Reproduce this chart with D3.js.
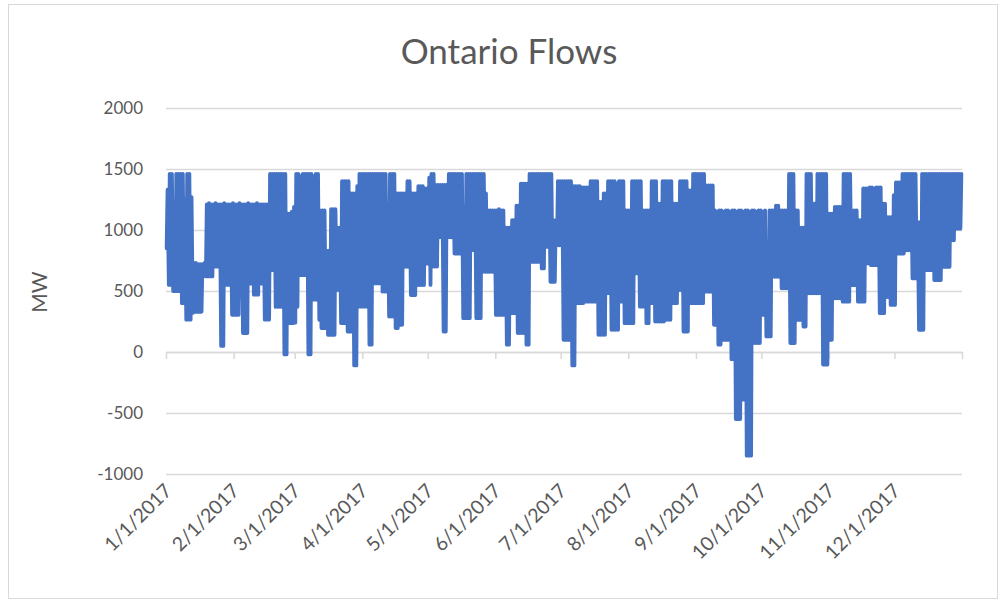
<!DOCTYPE html>
<html>
<head>
<meta charset="utf-8">
<script src="https://cdn.jsdelivr.net/npm/d3@7"></script>
<style>
  html, body { margin: 0; padding: 0; background: #fff; }
  svg { display: block; }
  text { font-family: Lato, "Open Sans", sans-serif; fill: #595959; }
</style>
</head>
<body>
<svg id="chart" width="1002" height="605"></svg>
<script>
// Daily extremes of the Ontario interchange flow (MW), one entry per day of 2017.
const dailyHigh = [
  // Jan
  1330,1460,1460,1230,1460,1460,1460,1460,1250,1460, 1460,1270,730,730,720,720,720,730,1210,1220,
  1210,1210,1220,1210,1210,1210,1220,1210,1210,1210, 1220,
  // Feb
  1210,1210,1220,1210,1210,1210,1220,1210,1210,1210, 1220,1210,1210,1210,1210,1210,
  1460,1460,1460,1460,1460,1460,1460,1460, 1135,1135,1150,1190,
  // Mar
  1460,1460,1440,1460,1460,1460,1460,1460,1440,1460,1460, 1160,1160,1160, 830,830, 1170,1170,1170,
  1020,1020, 1400,1400,1400,1400, 1300,1300,1300, 1360,1460,1460,
  // Apr
  1460,1460,1460,1460,1460,1460,1460,1460,1460,1460,1460, 1215, 1460,1460,1460,
  1300,1300,1300,1300,1300, 1400,1400, 1300,1300,1300, 1360,1360,1360, 1340,1340,
  // May
  1430,1460,1460, 1370,1370,1370,1370,1370,1370, 1460,1460,1460,1460,1460,1460,1460, 1190,
  1460,1460,1460,1460,1460,1460,1460,1460,1460, 1300, 1160,1160,1160,1160,
  // Jun
  1160,1170,1160,1160, 1020,1020,1020, 1080,1080, 1200,1200, 1380,1380,1380,1380,
  1460,1460,1460,1460,1460,1460,1460,1460,1460,1460,1460, 1080,1080, 1400,1400,
  // Jul
  1400,1400,1400,1400,1400, 1360,1360,1360,1360, 1350,1350,1350,1350, 1400,1400,1400,1400,
  1230,1230, 1300,1300, 1400,1400,1400,1400,1380,1400,1400,1400, 1160,1160,
  // Aug
  1160, 1400,1400,1400,1400,1400, 1160,1160,1160,1160, 1400,1400,1400, 1215,1215,
  1400,1400,1400,1400,1400, 1215,1215,1215, 1400,1400,1400,1400, 1325,1325, 1460,1460,
  // Sep
  1460,1460,1460,1460, 1365,1365,1365,1365,
  1160,1150,1160,1160,1150,1160,1160,1150,1160,1160,1150,1160,1160,1150,1160,1160,1150,1160,1160,1150,1160,1160,
  // Oct
  1150,1160, 620, 1160,1160,1160, 1200,1200, 1160,1160,1160,1160, 1460,1460,1460, 1160,1160,
  1020,1020,1020, 1460,1460,1460, 1215,1215, 1460,1460,1460,1460,1460, 1135,
  // Nov
  1135,1135, 1190,1190,1190,1190, 1460,1460,1460,1460, 1160,1160,1160, 1080,1080, 1340,1340,1340,
  1350,1350,1340,1350,1350,1350, 1215,1215, 1105,1105,1105, 1285,
  // Dec
  1390,1390,1390, 1460,1460,1460,1460,1460,1460,1460, 1065,1065,
  1460,1460,1460,1460,1460,1460,1460,1460,1460,1460,1460,1460,1460,1460,1460,1460,1460,1460,1460
];

const dailyLow = [
  // Jan
  850,550,550,500,500,500,500,400,400,265, 265,265,320,330,330,330,330,620,620,620,
  620,620,700,700,700,50,50,550,550,550, 305,
  // Feb
  305,305,305, 450, 155,155,155, 560,560, 470,470,470, 560,560, 265,265,265, 670,670,
  370,370,370,370, -20,-20, 236,236,236,
  // Mar
  240,370, 630,630,630,630, -20,-20, 430,430,430, 264, 196,196,196, 141,141,141,141,
  508,508, 236,236,236, 168,168,168, -110,-110, 372,372,
  // Apr
  372,372,372, 60,60, 562,562,562,562, 495,495,495, 291,291,291, 196,196, 223,223,
  698,698,698, 467,467,467, 549,549,549,549, 725,
  // May
  725, 550, 700,700,700, 940,940, 168,168, 940,940,940, 807,807,807,807, 277,277,277,277,
  834,834, 277,277,277, 657,657,657,657,657,657,
  // Jun
  304,304,304,304,304, 60,60, 318,318,318, 155,155,155,155, 60,60, 739,739,739,739,739,
  685,685, 861,861, 576,576,576, 875,875,
  // Jul
  875, 100,100,100,100, -110,-110, 400,400,400,400, 413,413,413,413,413,413,
  141,141,141,141, 481,481, 182,182,182,182, 413,413, 236,236,
  // Aug
  236,236,236, 644,644, 372,372,372, 236,236, 400,400, 250,250,250,250,250,
  264,264,264, 400,400,400, 508,508, 168,168,168, 400,400,400,
  // Sep
  400,400,400,400, 495,495,495,495, 223,223, 60,60, 100,100,100,100, -60,-60,
  -550,-550,-550, -390,-390, -850,-850,-850, 73,73,73,73,
  // Oct
  304,304, 128,128,128, 617,617,617,617, 522,522,522,522, 73,73,73, 264,264,264,
  209,209, 481,481,481,481,481,481,481, -103,-103,-103,
  // Nov
  100,100, 440,440,440,440, 413,413,413,413, 549,549,549, 413,413,413,413,
  725,725, 712,712,712,712, 318,318,318, 450,450, 386,386,
  // Dec
  386, 807,807,807,807,834,834,834, 603,603,603, 182,182,182, 671,671,671,671,
  590,590,590,590, 698,698,698,698, 916,916, 1011,1011,1011
];

const yTickValues = [-1000, -500, 0, 500, 1000, 1500, 2000];
const monthLabels = ["1/1/2017","2/1/2017","3/1/2017","4/1/2017","5/1/2017","6/1/2017",
                     "7/1/2017","8/1/2017","9/1/2017","10/1/2017","11/1/2017","12/1/2017"];

const svg = d3.select("#chart");
const plot = { left: 166, right: 962, top: 108, bottom: 474 };

// chart frame
svg.append("rect")
  .attr("x", 8.5).attr("y", 4.5).attr("width", 989).attr("height", 594)
  .attr("fill", "#fff").attr("stroke", "#D9D9D9").attr("stroke-width", 1);

const parseDay = d3.timeParse("%m/%d/%Y");
const x = d3.scaleTime()
  .domain([new Date(2017, 0, 1), new Date(2018, 0, 1)])
  .range([plot.left, plot.right]);
const y = d3.scaleLinear()
  .domain([-1000, 2000])
  .range([plot.bottom, plot.top]);

// horizontal gridlines + value labels
const yAxis = svg.append("g")
  .attr("transform", `translate(${plot.left},0)`)
  .call(d3.axisLeft(y).tickValues(yTickValues)
    .tickSize(-(plot.right - plot.left)).tickPadding(23).tickFormat(d => String(d)));
yAxis.select(".domain").remove();
yAxis.selectAll(".tick line").attr("stroke", "#D9D9D9").attr("stroke-width", 1.4);
yAxis.selectAll(".tick text")
  .style("font-size", "17px").attr("fill", "#595959");

// category axis line at zero with month tick marks
const tickDates = monthLabels.map(parseDay).concat([new Date(2018, 0, 1)]);
const xAxis = svg.append("g")
  .attr("transform", `translate(0,${y(0)})`)
  .call(d3.axisBottom(x).tickValues(tickDates).tickSize(7).tickSizeOuter(0).tickFormat(""));
xAxis.select(".domain").attr("stroke", "#D9D9D9").attr("stroke-width", 1.5);
xAxis.selectAll(".tick line").attr("stroke", "#D9D9D9").attr("stroke-width", 1.5);

// month labels sit below the plot area
svg.append("g").selectAll("text")
  .data(monthLabels)
  .join("text")
  .attr("transform", d => `translate(${x(parseDay(d)) + 7},${plot.bottom + 18}) rotate(-45)`)
  .attr("text-anchor", "end")
  .style("font-size", "19.5px")
  .text(d => d);

// flow series: each day contributes its low and its high
const series = [];
dailyHigh.forEach((hi, i) => {
  series.push({ t: new Date(2017, 0, 1 + i, 7), v: dailyLow[i] });
  series.push({ t: new Date(2017, 0, 1 + i, 17), v: hi });
});

svg.append("path")
  .datum(series)
  .attr("fill", "none")
  .attr("stroke", "#4472C4")
  .attr("stroke-width", 3.8)
  .attr("stroke-linejoin", "round")
  .attr("stroke-linecap", "round")
  .attr("d", d3.line().x(d => x(d.t)).y(d => y(d.v)));

// titles
svg.append("text")
  .attr("x", 509).attr("y", 64)
  .attr("text-anchor", "middle")
  .style("font-size", "35px")
  .text("Ontario Flows");

svg.append("text")
  .attr("transform", `translate(47,${(plot.top + plot.bottom) / 2 + 1}) rotate(-90)`)
  .attr("text-anchor", "middle")
  .style("font-size", "21px")
  .text("MW");
</script>
</body>
</html>
